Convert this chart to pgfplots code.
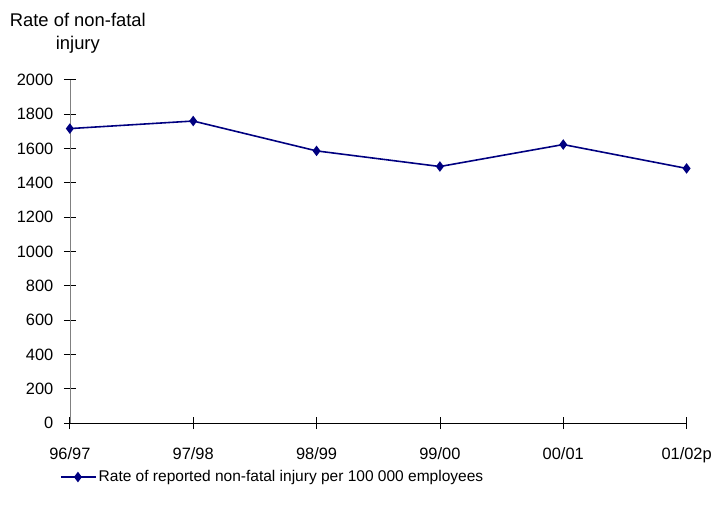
\documentclass[border=0pt]{standalone}
\usepackage{fontspec}
\setmainfont{Liberation Sans}
\usepackage{pgfplots}
\pgfplotsset{compat=1.18}
\definecolor{navyline}{RGB}{0,0,128}
\begin{document}
\begin{tikzpicture}[x=1bp,y=1bp]
\begin{axis}[
  at={(0,0)}, anchor=south west,
  scale only axis,
  width=618bp, height=344bp,
  xmin=0, xmax=5, ymin=0, ymax=2000,
  xtick={0,1,2,3,4,5},
  xticklabels={96/97,97/98,98/99,99/00,00/01,01/02p},
  ytick={0,200,400,600,800,1000,1200,1400,1600,1800,2000},
  axis x line*=bottom, axis y line*=left,
  x axis line style={black, -},
  y axis line style={gray, -},
  tick align=center,
  major tick length=12bp,
  tick style={black, line width=0.8pt},
  /pgf/number format/assume math mode=true,
  /pgf/number format/1000 sep={},
  ticklabel style={font=\fontsize{16.5}{18}\selectfont},
  xticklabel style={yshift=-15bp},
  yticklabel style={xshift=-7bp},
  legend style={draw=none, fill=none, at={(-0.016,-0.157)}, anchor=west,
    inner sep=0pt, font=\fontsize{15.6}{18}\selectfont},
  legend cell align=left,
  legend image code/.code={\draw[mark repeat=2, mark phase=2] plot coordinates {(0bp,0bp)(17bp,0bp)(35bp,0bp)};},
  clip=false,
]
\addplot[navyline, line width=1.6pt, mark=diamond*, mark size=4bp, mark options={fill=navyline, solid}]
  coordinates {(0,1716) (1,1760) (2,1586) (3,1495) (4,1623) (5,1484)};
\addlegendentry{Rate of reported non-fatal injury per 100 000 employees}
\end{axis}
\node[align=center, font=\fontsize{18.5}{23}\selectfont] at (8bp,391bp) {Rate of non-fatal\\injury};
\useasboundingbox (-70bp,-82bp) rectangle (645bp,424bp);
\end{tikzpicture}
\end{document}
